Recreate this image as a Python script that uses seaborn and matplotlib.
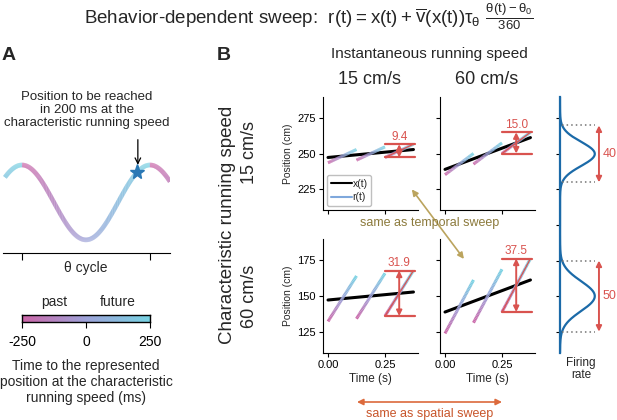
import numpy as np
import pandas as pd
import seaborn as sns
import matplotlib.pyplot as plt
from matplotlib.collections import LineCollection
from matplotlib.colors import LinearSegmentedColormap, Normalize
from matplotlib.lines import Line2D
from matplotlib.patches import ConnectionPatch

# ---- data ----
inst_speeds = [15, 60]          # instantaneous running speed (columns), cm/s
char_speeds = [15, 60]          # characteristic running speed (rows), cm/s
row_centers = [250, 150]        # position at mid time (cm)
row_ylims = [(210, 290), (110, 190)]
row_yticks = [[225, 250, 275], [125, 150, 175]]
sweep_labels = [['9.4', '15.0'], ['31.9', '37.5']]
time_ticks = [0.0, 0.25]
cycle_s = 0.125                 # theta cycle length
n_cycles = 3
window_ms = 250                 # represented time range (+/-)
t_mid = 0.1875

field_centers = [250, 150]
field_widths = [40, 50]
field_sigmas = [8.5, 10.5]
field_labels = ['40', '50']

star_phase = 0.9                # 200 ms ahead
cbar_ticks = [-250, 0, 250]

# ---- style ----
sns.set_style('ticks')
plt.rcParams['font.family'] = ['Liberation Sans', 'DejaVu Sans']
plt.rcParams['mathtext.default'] = 'regular'
plt.rcParams['xtick.major.size'] = 3
plt.rcParams['ytick.major.size'] = 3
plt.rcParams['axes.edgecolor'] = 'black'
plt.rcParams['xtick.color'] = 'black'
plt.rcParams['ytick.color'] = 'black'

sweep_cmap = LinearSegmentedColormap.from_list('sweep', ['#cc66a8', '#9ea3d9', '#78d3e3'])
norm = Normalize(-window_ms, window_ms)
red = '#d9534f'
gold = '#bba45e'
orange = '#dc6a3c'
blue = '#1b6aa8'

W, H = 617, 420
fig = plt.figure(figsize=(W / 100, H / 100), dpi=100)


def px_axes(x0, y0, x1, y1):
    return fig.add_axes([x0 / W, 1 - y1 / H, (x1 - x0) / W, (y1 - y0) / H])


def px_text(x, y, s, **kw):
    kw.setdefault('ha', 'center')
    kw.setdefault('va', 'center')
    return fig.text(x / W, 1 - y / H, s, **kw)


def colored_line(ax, x, y, c, lw):
    pts = np.column_stack([x, y]).reshape(-1, 1, 2)
    segs = np.concatenate([pts[:-1], pts[1:]], axis=1)
    lc = LineCollection(segs, cmap=sweep_cmap, norm=norm, linewidths=lw, capstyle='butt', zorder=3)
    lc.set_array((c[:-1] + c[1:]) / 2)
    ax.add_collection(lc)
    return lc


# ---- titles ----
px_text(309, 17, r'Behavior-dependent sweep:  $r(t) = x(t) + \overline{v}(x(t))\tau_\theta\ \frac{\theta(t) - \theta_0}{360}$',
        fontsize=13.5)
px_text(9, 56, 'A', fontsize=14, fontweight='bold')
px_text(224, 56, 'B', fontsize=14, fontweight='bold')

# ---- panel A ----
axA = px_axes(3, 150, 170, 253)
phase = np.linspace(-0.133, 1.156, 400)
wave = np.cos(2 * np.pi * phase)
col = (np.mod(phase, 1) - 0.5) * 2 * window_ms
colored_line(axA, phase, wave, col, 3.3)
axA.set_xlim(-0.148, 1.156)
axA.set_ylim(-1.35, 1.4)
axA.set_xticks([0, 1])
axA.set_xticklabels([])
axA.tick_params(axis='x', length=5)
axA.set_yticks([])
for s in ['top', 'right', 'left']:
    axA.spines[s].set_visible(False)
axA.patch.set_alpha(0)
axA.plot([star_phase], [np.cos(2 * np.pi * star_phase)], marker='*', ms=11, color='#2a78b5', zorder=5)
axA.annotate('', xy=(star_phase + 0.005, np.cos(2 * np.pi * star_phase) + 0.12),
             xytext=(star_phase + 0.005, 1.0 + 0.75),
             arrowprops=dict(arrowstyle='->', color='black', lw=0.9), annotation_clip=False)
px_text(87, 110, 'Position to be reached\nin 200 ms at the\ncharacteristic running speed',
        fontsize=9.5, linespacing=1.1)
px_text(86, 268, 'θ cycle', fontsize=10)

# colorbar
cax = px_axes(22, 315, 150, 322)
grad = np.linspace(-window_ms, window_ms, 256)[None, :]
cax.imshow(grad, cmap=sweep_cmap, norm=norm, aspect='auto', extent=(-window_ms, window_ms, 0, 1))
cax.set_yticks([])
cax.set_xticks(cbar_ticks)
cax.set_xticklabels([str(v) for v in cbar_ticks], fontsize=10)
cax.tick_params(axis='x', length=4, pad=5)
for s in cax.spines.values():
    s.set_visible(True)
    s.set_linewidth(1.0)
px_text(54, 302, 'past', fontsize=10)
px_text(118, 302, 'future', fontsize=10)
px_text(86, 382, 'Time to the represented\nposition at the characteristic\nrunning speed (ms)',
        fontsize=10, linespacing=1.15)

# ---- panel B ----
col_x = [(323, 418), (440, 535)]
row_y = [(97, 210), (239, 353)]
axes = [[None, None], [None, None]]
for i, vc in enumerate(char_speeds):
    for j, vi in enumerate(inst_speeds):
        ax = px_axes(col_x[j][0], row_y[i][0], col_x[j][1], row_y[i][1])
        axes[i][j] = ax
        t = np.linspace(0, n_cycles * cycle_s, 100)
        xpos = row_centers[i] + vi * (t - t_mid)
        df = pd.DataFrame({'t': t, 'x': xpos})
        sns.lineplot(data=df, x='t', y='x', color='black', lw=2.2, ax=ax, zorder=2)
        for k in range(n_cycles):
            tc = np.linspace(k * cycle_s, (k + 1) * cycle_s, 40)
            ph = (tc - k * cycle_s) / cycle_s
            tm = (ph - 0.5) * 2 * window_ms
            r = row_centers[i] + vi * (tc - t_mid) + vc * tm / 1000
            colored_line(ax, tc, r, tm, 2.2)
        # sweep size of last cycle
        t0 = (n_cycles - 1) * cycle_s
        t1 = n_cycles * cycle_s
        rmin = row_centers[i] + vi * (t0 - t_mid) - vc * window_ms / 1000
        rmax = row_centers[i] + vi * (t1 - t_mid) + vc * window_ms / 1000
        tmid = (t0 + t1) / 2
        ax.plot([t0, t1 + 0.007], [rmax, rmax], color=red, lw=1.6, zorder=4)
        ax.plot([t0, t1 + 0.007], [rmin, rmin], color=red, lw=1.6, zorder=4)
        ax.plot([t0, t1], [rmin, rmax], color=red, lw=0.9, zorder=4)
        ax.annotate('', xy=(tmid, rmax), xytext=(tmid, rmin),
                    arrowprops=dict(arrowstyle='<|-|>', color=red, lw=1.4, shrinkA=0, shrinkB=0,
                                    mutation_scale=8), zorder=5)
        ax.text(tmid, rmax + 1.2, sweep_labels[i][j], color=red, fontsize=8.5, ha='center', va='bottom')

        ax.set_xlim(-0.022, 0.395)
        ax.set_ylim(*row_ylims[i])
        ax.set_yticks(row_yticks[i])
        ax.set_xticks(time_ticks)
        ax.tick_params(labelsize=8, pad=2)
        if j == 0:
            ax.set_ylabel('Position (cm)', fontsize=7.5, labelpad=3)
        else:
            ax.set_yticklabels([])
            ax.set_ylabel('')
        if i == 1:
            ax.set_xticklabels(['0.00', '0.25'])
            ax.set_xlabel('Time (s)', fontsize=8.5, labelpad=2)
        else:
            ax.set_xticklabels([])
            ax.set_xlabel('')
        sns.despine(ax=ax)

handles = [Line2D([], [], color='black', lw=1.5), Line2D([], [], color='#7fa8dc', lw=1.5)]
axes[0][0].legend(handles, ['x(t)', 'r(t)'], loc='lower left', fontsize=7.5, handlelength=2.0,
                  handletextpad=0.1, borderpad=0.35, labelspacing=0.35, edgecolor='0.75',
                  framealpha=1, borderaxespad=0.4)

# firing rate column
axF = px_axes(560, 97, 600, 353)
pos = np.linspace(110, 290, 600)
rate = np.zeros_like(pos)
for c, sg in zip(field_centers, field_sigmas):
    rate += np.exp(-0.5 * ((pos - c) / sg) ** 2)
sns.lineplot(x=rate, y=pos, orient='y', color=blue, lw=1.6, ax=axF)
for c, w, lab in zip(field_centers, field_widths, field_labels):
    for yy in (c - w / 2, c + w / 2):
        axF.plot([0.05, 1.0], [yy, yy], color='0.45', lw=1.1, ls=(0, (1, 2)))
    axF.annotate('', xy=(1.12, c + w / 2), xytext=(1.12, c - w / 2),
                 arrowprops=dict(arrowstyle='<|-|>', color=red, lw=1.4, shrinkA=0, shrinkB=0,
                                 mutation_scale=8), annotation_clip=False)
    axF.text(1.22, c, lab, color=red, fontsize=9, ha='left', va='center')
axF.set_xlim(0, 1.15)
axF.set_ylim(110, 290)
axF.set_xticks([])
axF.set_yticks([125, 150, 175, 200, 225, 250, 275])
axF.set_yticklabels([])
axF.set_xlabel('')
axF.set_ylabel('')
axF.spines['left'].set_color(blue)
axF.spines['left'].set_linewidth(1.6)
for s in ['top', 'right', 'bottom']:
    axF.spines[s].set_visible(False)
axF.patch.set_alpha(0)
px_text(581, 369, 'Firing\nrate', fontsize=8.5, linespacing=1.1)

# column / row headers
px_text(429, 54, 'Instantaneous running speed', fontsize=11)
px_text(370, 80, '15 cm/s', fontsize=13)
px_text(487, 80, '60 cm/s', fontsize=13)
px_text(228, 225, 'Characteristic running speed', fontsize=13.5, rotation=90)
px_text(250, 153, '15 cm/s', fontsize=13, rotation=90)
px_text(250, 296, '60 cm/s', fontsize=13, rotation=90)

# comparison arrows
con = ConnectionPatch(xyA=(0.368, 224.6), coordsA=axes[0][0].transData,
                      xyB=(0.083, 176.0), coordsB=axes[1][1].transData,
                      arrowstyle='<|-|>', mutation_scale=9, color=gold, lw=1.2)
fig.add_artist(con)
px_text(430, 223, 'same as temporal sweep', fontsize=9, color='#8c7a3c')

con2 = ConnectionPatch(xyA=(357 / W, 1 - 402 / H), coordsA='figure fraction',
                       xyB=(502 / W, 1 - 402 / H), coordsB='figure fraction',
                       arrowstyle='<|-|>', mutation_scale=9, color=orange, lw=1.2)
fig.add_artist(con2)
px_text(430, 414, 'same as spatial sweep', fontsize=9, color='#c8552a')

fig.savefig('out.png', dpi=100)
